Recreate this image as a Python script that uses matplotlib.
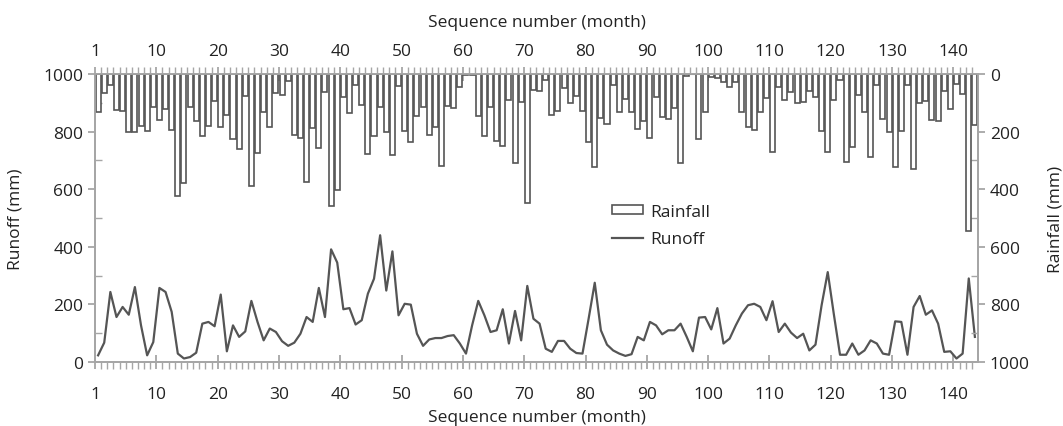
import numpy as np
import matplotlib
matplotlib.use("Agg")
import matplotlib.pyplot as plt
from matplotlib.ticker import MultipleLocator, FixedLocator

plt.rcParams['font.family'] = ['Open Sans', 'DejaVu Sans']

months = np.arange(1, 145)

rainfall = [131, 67, 40, 124, 127, 202, 202, 182, 197, 116,
            160, 121, 194, 425, 378, 116, 162, 216, 182, 93,
            185, 142, 226, 260, 78, 390, 274, 131, 185, 66,
            73, 23, 212, 221, 374, 189, 258, 61, 460, 403,
            79, 137, 38, 106, 278, 216, 116, 202, 283, 43,
            197, 237, 145, 116, 212, 185, 318, 110, 119, 46,
            5, 5, 147, 214, 116, 231, 249, 89, 310, 98,
            449, 55, 60, 20, 142, 130, 50, 102, 75, 127,
            237, 322, 154, 174, 38, 133, 87, 133, 191, 162,
            222, 81, 150, 156, 119, 310, 6, 0, 225, 133,
            12, 15, 29, 46, 29, 131, 185, 193, 131, 84,
            270, 46, 89, 64, 101, 96, 58, 79, 197, 270,
            90, 20, 304, 255, 73, 131, 287, 40, 156, 202,
            322, 197, 38, 330, 102, 93, 160, 162, 58, 121,
            35, 69, 544, 177]

runoff = [23, 67, 243, 156, 191, 164, 260, 127, 23, 69,
          257, 243, 174, 29, 12, 17, 32, 133, 139, 124,
          234, 37, 127, 87, 106, 212, 139, 75, 116, 104,
          72, 56, 67, 98, 156, 139, 257, 156, 391, 345,
          183, 187, 130, 145, 237, 289, 440, 248, 384, 162,
          202, 199, 98, 56, 78, 83, 83, 90, 93, 64,
          29, 127, 212, 162, 104, 110, 183, 64, 177, 75,
          264, 150, 133, 46, 35, 73, 73, 46, 31, 29,
          150, 275, 110, 60, 40, 29, 21, 27, 87, 75,
          139, 127, 96, 110, 110, 133, 87, 37, 154, 156,
          113, 187, 64, 81, 127, 168, 197, 202, 191, 145,
          211, 104, 133, 102, 83, 98, 40, 60, 197, 312,
          165, 25, 25, 64, 25, 40, 75, 64, 29, 25,
          141, 139, 25, 191, 229, 164, 179, 133, 35, 37,
          12, 29, 290, 87]

tick_pos = [0, 10, 20, 30, 40, 50, 60, 70, 80, 90, 100, 110, 120, 130, 140]
tick_labels = ['1', '10', '20', '30', '40', '50', '60', '70', '80', '90',
               '100', '110', '120', '130', '140']

line_col = '#555555'
axis_col = '#a6a6a6'
text_col = '#222222'
fs = 12.5

fig = plt.figure(figsize=(10.63, 4.27), dpi=100)
ax = fig.add_axes([0.0894, 0.150, 0.8306, 0.6744])
ax2 = ax.twinx()

xpos = months - 0.5
ax.plot(xpos, runoff, color=line_col, lw=1.6, label='Runoff', zorder=3)
ax2.bar(xpos, rainfall, width=0.82, color='white', edgecolor=line_col,
        linewidth=1.2, label='Rainfall', zorder=2)

ax.set_xlim(0, 144)
ax.set_ylim(0, 1000)
ax2.set_ylim(1000, 0)

for a in (ax, ax2):
    for s in a.spines.values():
        s.set_color(axis_col)
        s.set_linewidth(1.3)

ax.xaxis.set_major_locator(FixedLocator(tick_pos))
ax.set_xticklabels(tick_labels)
ax.xaxis.set_minor_locator(FixedLocator(np.arange(1, 144)))
ax.tick_params(axis='x', which='major', direction='inout', length=10,
               width=1.3, color=axis_col, labelsize=fs, labelcolor=text_col, pad=12)
ax.tick_params(axis='x', which='minor', direction='out', length=5,
               width=1.0, color=axis_col)

ax.yaxis.set_major_locator(MultipleLocator(200))
ax.yaxis.set_minor_locator(MultipleLocator(100))
ax.tick_params(axis='y', which='major', direction='out', length=5, width=1.3,
               color=axis_col, labelsize=fs, labelcolor=text_col)
ax.tick_params(axis='y', which='minor', direction='in', length=5, width=1.0,
               color=axis_col)
ax2.yaxis.set_major_locator(MultipleLocator(200))
ax2.yaxis.set_minor_locator(MultipleLocator(100))
ax2.tick_params(axis='y', which='major', direction='out', length=5, width=1.3,
                color=axis_col, labelsize=fs, labelcolor=text_col)
ax2.tick_params(axis='y', which='minor', direction='in', length=5, width=1.0,
                color=axis_col)

top = ax.secondary_xaxis('top')
top.xaxis.set_major_locator(FixedLocator(tick_pos))
top.set_xticklabels(tick_labels)
top.xaxis.set_minor_locator(FixedLocator(np.arange(1, 144)))
top.tick_params(axis='x', which='major', direction='inout', length=10,
                width=1.3, color=axis_col, labelsize=fs, labelcolor=text_col, pad=6)
top.tick_params(axis='x', which='minor', direction='out', length=5,
                width=1.0, color=axis_col)
top.spines['top'].set_color(axis_col)
top.set_xlabel('Sequence number (month)', fontsize=fs, color=text_col, labelpad=12)

ax.set_xlabel('Sequence number (month)', fontsize=fs, color=text_col, labelpad=5)
ax.set_ylabel('Runoff (mm)', fontsize=fs, color=text_col, labelpad=14)
ax2.set_ylabel('Rainfall (mm)', fontsize=fs, color=text_col, labelpad=13)

h1, l1 = ax2.get_legend_handles_labels()
h2, l2 = ax.get_legend_handles_labels()
leg = ax2.legend(h1 + h2, l1 + l2, loc='center left', bbox_to_anchor=(0.568, 0.475),
                 frameon=False, fontsize=fs, handlelength=1.8, handleheight=0.4,
                 handletextpad=0.4, labelspacing=0.65)
for t in leg.get_texts():
    t.set_color(text_col)

fig.savefig('out.png', dpi=100)
